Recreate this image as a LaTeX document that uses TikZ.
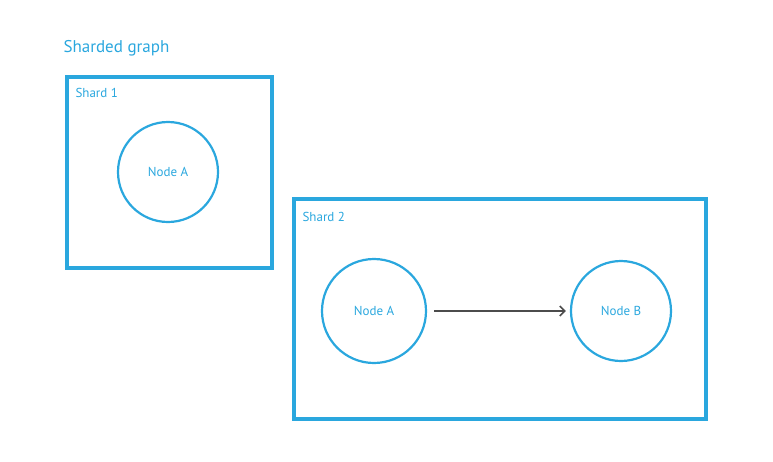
\documentclass[tikz,border=0pt]{standalone}
\usepackage{fontspec}
\setmainfont{PT Sans}
\usetikzlibrary{arrows.meta, positioning}

\tikzset{
  shardbox/.style={draw=sketch, line width=3.5pt},
  graphnode/.style={circle, draw=sketch, line width=2.2pt, minimum size=100pt,
    text=sketch, font=\fontsize{13}{15}\selectfont},
  shardlabel/.style={anchor=west, text=sketch, font=\fontsize{13}{15}\selectfont},
  link/.style={-{Straight Barb[length=5pt,width=10pt,line width=1.6pt]}, draw=black!70, line width=1.6pt}
}

\begin{document}
\begin{tikzpicture}[x=1pt, y=-1pt]
        \definecolor{sketch}{RGB}{42,167,222}

        \useasboundingbox (0,0) rectangle (773,461);

        \node[anchor=west, text=sketch, font=\fontsize{17}{20}\selectfont] (title) at (60,48) {Sharded graph};

        % shard 1
        \draw[shardbox] (67,77) rectangle (272,268);
        \node[shardlabel] (shard1) at (72,93) {Shard 1};
        \node[graphnode] (nodeA1) at (168,172) {Node A};

        % shard 2
        \draw[shardbox] (294,199) rectangle (706,419);
        \node[shardlabel] (shard2) at (299,217) {Shard 2};
        \node[graphnode, minimum size=104pt] (nodeA2) at (374,311) {Node A};
        \node[graphnode] (nodeB) at (621,311) {Node B};

        \draw[link, shorten <=7pt, shorten >=4pt] (nodeA2) -- (nodeB);
      \end{tikzpicture}
\end{document}
